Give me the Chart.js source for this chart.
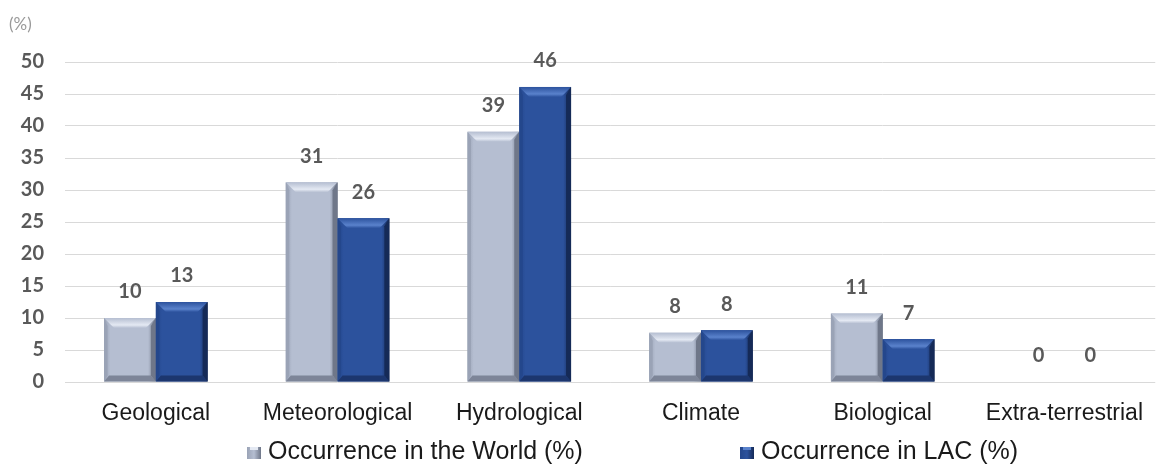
<!DOCTYPE html>
<html>
<head>
<meta charset="utf-8">
<script src="https://cdn.jsdelivr.net/npm/chart.js@4/dist/chart.umd.min.js"></script>
<style>
  html, body { margin: 0; padding: 0; background: #ffffff; }
  #wrap { width: 1161px; height: 465px; position: relative; }
</style>
</head>
<body>
<div id="wrap"><canvas id="c" width="1161" height="465"></canvas></div>
<script>
// Disaster type categories
const categories = ['Geological', 'Meteorological', 'Hydrological', 'Climate', 'Biological', 'Extra-terrestrial'];
// Share of occurrences (%)
const worldValues = [10.0, 31.2, 39.1, 7.7, 10.7, 0];
const lacValues = [12.5, 25.6, 46.1, 8.1, 6.7, 0];
const seriesNames = ['Occurrence in the World (%)', 'Occurrence in LAC (%)'];
const yTicks = [0, 5, 10, 15, 20, 25, 30, 35, 40, 45, 50];
const unitLabel = '(%)';

const palettes = [
  { face: '#b5bed1', top: '#e4e9f3', left: '#9aa3b6', right: '#6f7789', bottom: '#7d8598' },
  { face: '#2c529d', top: '#5a82cc', left: '#24478c', right: '#152a57', bottom: '#1c366e' }
];

const numFont = '"Lato", "Open Sans", sans-serif';
const textFont = '"Liberation Sans", Arial, sans-serif';

// Draws each bar as a bevelled block
const bevelBars = {
  id: 'bevelBars',
  afterDatasetsDraw(chart) {
    const ctx = chart.ctx;
    chart.data.datasets.forEach((ds, di) => {
      const meta = chart.getDatasetMeta(di);
      const p = palettes[di];
      meta.data.forEach((bar) => {
        const { x, y, base, width } = bar.getProps(['x', 'y', 'base', 'width'], true);
        const h = base - y;
        if (h <= 0.5) return;
        const l = x - width / 2, r = x + width / 2;
        const b = Math.min(10, h / 3), sw = Math.min(5, width / 8);
        ctx.save();
        // face
        const g = ctx.createLinearGradient(l, 0, r, 0);
        g.addColorStop(0, p.left);
        g.addColorStop(0.12, p.face);
        g.addColorStop(0.85, p.face);
        g.addColorStop(1, p.right);
        ctx.fillStyle = g;
        ctx.fillRect(l, y, width, h);
        // top bevel
        ctx.beginPath();
        ctx.moveTo(l, y); ctx.lineTo(r, y); ctx.lineTo(r - sw * 2, y + b); ctx.lineTo(l + sw * 2, y + b); ctx.closePath();
        const gt = ctx.createLinearGradient(0, y, 0, y + b);
        gt.addColorStop(0, p.face);
        gt.addColorStop(0.7, p.top);
        gt.addColorStop(1, p.face);
        ctx.fillStyle = gt; ctx.fill();
        // right bevel
        ctx.beginPath();
        ctx.moveTo(r, y); ctx.lineTo(r, base); ctx.lineTo(r - sw, base - b * 0.6); ctx.lineTo(r - sw, y + b * 0.8); ctx.closePath();
        ctx.fillStyle = p.right; ctx.fill();
        // left bevel
        ctx.beginPath();
        ctx.moveTo(l, y); ctx.lineTo(l, base); ctx.lineTo(l + sw * 0.7, base - b * 0.6); ctx.lineTo(l + sw * 0.7, y + b * 0.8); ctx.closePath();
        ctx.fillStyle = p.left; ctx.fill();
        // bottom bevel
        ctx.beginPath();
        ctx.moveTo(l, base); ctx.lineTo(r, base); ctx.lineTo(r - sw, base - b * 0.6); ctx.lineTo(l + sw, base - b * 0.6); ctx.closePath();
        ctx.fillStyle = p.bottom; ctx.fill();
        ctx.restore();
      });
    });
  }
};

// Rounded value labels above each bar
const valueLabels = {
  id: 'valueLabels',
  afterDatasetsDraw(chart) {
    const ctx = chart.ctx;
    ctx.save();
    ctx.font = 'bold 20px ' + numFont;
    ctx.fillStyle = '#595959';
    ctx.textAlign = 'center';
    ctx.textBaseline = 'middle';
    chart.data.datasets.forEach((ds, di) => {
      chart.getDatasetMeta(di).data.forEach((bar, i) => {
        ctx.fillText(String(Math.round(ds.data[i])), bar.x, bar.y - 26);
      });
    });
    ctx.restore();
  }
};

// Unit caption and legend
const extras = {
  id: 'extras',
  afterDraw(chart) {
    const ctx = chart.ctx;
    ctx.save();
    ctx.font = '17px ' + numFont;
    ctx.fillStyle = '#9a9a9a';
    ctx.textAlign = 'left';
    ctx.textBaseline = 'middle';
    ctx.fillText(unitLabel, 9, 25);

    const area = chart.chartArea;
    const starts = [area.left + 182, area.left + 675];
    const ly = 452;
    ctx.font = '25px ' + textFont;
    seriesNames.forEach((name, i) => {
      const p = palettes[i];
      const sx = starts[i];
      const g = ctx.createLinearGradient(sx, 0, sx + 14, 0);
      g.addColorStop(0, p.left); g.addColorStop(0.5, p.face); g.addColorStop(1, p.right);
      ctx.fillStyle = g;
      ctx.fillRect(sx, ly - 5, 14, 12);
      ctx.fillStyle = p.top;
      ctx.fillRect(sx + 3, ly - 5, 8, 3);
      ctx.fillStyle = '#1a1a1a';
      ctx.fillText(name, sx + 21, ly);
    });
    ctx.restore();
  }
};

new Chart(document.getElementById('c'), {
  type: 'bar',
  data: {
    labels: categories,
    datasets: [
      { label: seriesNames[0], data: worldValues, backgroundColor: 'rgba(0,0,0,0)' },
      { label: seriesNames[1], data: lacValues, backgroundColor: 'rgba(0,0,0,0)' }
    ]
  },
  options: {
    responsive: false,
    animation: false,
    devicePixelRatio: 1,
    layout: { padding: { top: 62, right: -3, bottom: 0, left: 0 } },
    plugins: { legend: { display: false }, tooltip: { enabled: false } },
    datasets: { bar: { categoryPercentage: 0.57, barPercentage: 1.0 } },
    scales: {
      x: {
        grid: { display: false, drawTicks: false },
        border: { display: false },
        ticks: { color: '#1a1a1a', font: { family: textFont, size: 23 }, padding: 18, maxRotation: 0, autoSkip: false },
        afterFit(s) { s.height = 83; }
      },
      y: {
        min: 0, max: 50,
        afterBuildTicks(s) { s.ticks = yTicks.map(v => ({ value: v })); },
        grid: { color: '#d9d9d9', drawTicks: false },
        border: { display: false },
        ticks: { color: '#595959', font: { family: numFont, size: 20, weight: 'bold' }, padding: 21 },
        afterFit(s) { s.width = 65; }
      }
    }
  },
  plugins: [bevelBars, valueLabels, extras]
});
</script>
</body>
</html>
